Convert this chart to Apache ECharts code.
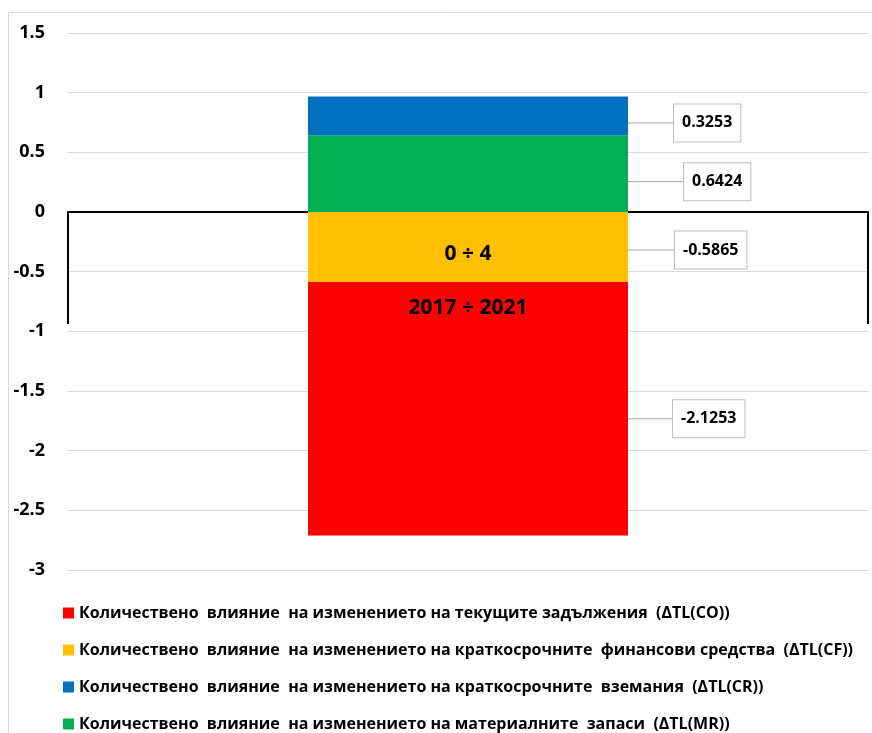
<!DOCTYPE html>
<html>
<head>
<meta charset="utf-8">
<script src="https://cdn.jsdelivr.net/npm/echarts@6/dist/echarts.min.js"></script>
<style>
html,body{margin:0;padding:0;background:#fff;}
#chart{width:872px;height:733px;}
</style>
</head>
<body>
<div id="chart"></div>
<script>
// ---- data ----
var categories = ['0 ÷ 4'];
var groupLabels = ['2017 ÷ 2021'];
var seriesNames = [
  'Количествено  влияние  на изменението на текущите задължения  (ΔTL(CO))',
  'Количествено  влияние  на изменението на краткосрочните  финансови средства  (ΔTL(CF))',
  'Количествено  влияние  на изменението на краткосрочните  вземания  (ΔTL(CR))',
  'Количествено  влияние  на изменението на материалните  запаси  (ΔTL(MR))'
];
var valuesCO = [-2.1253];
var valuesCF = [-0.5865];
var valuesCR = [0.3253];
var valuesMR = [0.6424];
var yTicks = [-3, -2.5, -2, -1.5, -1, -0.5, 0, 0.5, 1, 1.5];

var colors = { CO: '#ff0000', CF: '#ffc000', CR: '#0070c0', MR: '#00b050' };
var FONT = 'Open Sans';
var Y_MIN = -3, Y_MAX = 1.5;
var GRID_TOP = 33, GRID_BOTTOM = 163, CH = 733;

function mk(name, data, color, dx, dy) {
  return {
    name: name, type: 'bar', stack: 'total', data: data,
    barWidth: '40%', itemStyle: { color: color },
    label: {
      show: true, position: 'right', distance: 5,
      formatter: function (p) { return String(p.value); },
      backgroundColor: '#fff', borderColor: '#bfbfbf', borderWidth: 1,
      padding: [11, 8, 10, 8],
      color: '#000', fontFamily: FONT, fontWeight: 'bold', fontSize: 16
    },
    labelLayout: { dx: dx, dy: dy },
    labelLine: { show: true, lineStyle: { color: '#a6a6a6', width: 1 } }
  };
}

// offset that brings the label-only axis onto the zero line (layout only)
var gridH = CH - GRID_TOP - GRID_BOTTOM;
var zeroFromBottom = (0 - Y_MIN) / (Y_MAX - Y_MIN) * gridH;

var chart = echarts.init(document.getElementById('chart'), null, { renderer: 'canvas' });
chart.setOption({
  animation: false,
  backgroundColor: '#fff',
  graphic: [{
    type: 'rect', left: 6, top: 10, z: -10,
    shape: { width: 880, height: 740 },
    style: { fill: 'none', stroke: '#d9d9d9', lineWidth: 1 }
  }],
  grid: { left: 68, right: 4, top: GRID_TOP, bottom: GRID_BOTTOM, containLabel: false },
  legend: {
    orient: 'vertical', left: 63, top: 604, padding: 0,
    height: 129,
    data: seriesNames,
    icon: 'rect', itemWidth: 11, itemHeight: 11, itemGap: 19,
    textStyle: { fontFamily: FONT, fontWeight: 'bold', fontSize: 16, color: '#000', lineHeight: 18 }
  },
  xAxis: [{
    type: 'category', data: categories, position: 'bottom',
    axisLine: { onZero: true, lineStyle: { color: '#000', width: 2 } },
    axisTick: { show: true, length: 112, lineStyle: { color: '#000', width: 2 } },
    axisLabel: { show: false }
  }, {
    type: 'category', data: categories, position: 'bottom', z: 20,
    offset: -zeroFromBottom,
    axisLine: { show: false, onZero: false },
    axisTick: { show: false },
    axisLabel: {
      margin: 15,
      formatter: function (v, i) { return '{a|' + v + '}\n{b|' + groupLabels[i] + '}'; },
      rich: {
        a: { fontFamily: FONT, fontWeight: 'bold', fontSize: 21, color: '#000', lineHeight: 54 },
        b: { fontFamily: FONT, fontWeight: 'bold', fontSize: 21, color: '#000', lineHeight: 54 }
      }
    }
  }],
  yAxis: {
    type: 'value', min: Y_MIN, max: Y_MAX, interval: 0.5,
    axisLine: { show: false }, axisTick: { show: false },
    splitLine: { lineStyle: { color: '#d9d9d9', width: 1 } },
    axisLabel: {
      margin: 23, color: '#000', fontFamily: FONT, fontWeight: 'bold', fontSize: 18,
      formatter: function (v) { return yTicks.indexOf(v) >= 0 ? String(v) : ''; }
    }
  },
  series: [
    mk(seriesNames[1], valuesCF, colors.CF, 42, 3),
    mk(seriesNames[3], valuesMR, colors.MR, 51, 8),
    mk(seriesNames[2], valuesCR, colors.CR, 41, 7),
    mk(seriesNames[0], valuesCO, colors.CO, 40, 10)
  ]
});
</script>
</body>
</html>
